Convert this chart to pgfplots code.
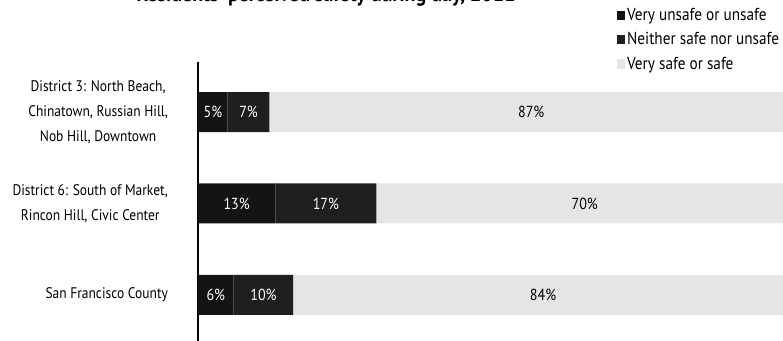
\documentclass[border=0pt]{standalone}
\usepackage{fontspec}
\setmainfont{PT Sans}[FakeStretch=0.88]
\usepackage{pgfplots}
\pgfplotsset{compat=1.18}

\definecolor{vunsafe}{gray}{0.08}
\definecolor{neither}{gray}{0.12}
\definecolor{vsafe}{gray}{0.9}

\pgfplotsset{
  frame/.style={
    at={(148.5pt,-258.75pt)}, anchor=south west,
    scale only axis,
    width=446.25pt, height=212.25pt,
    xmin=0, xmax=100,
    ymin=-0.55, ymax=2.55,
  }
}

\begin{document}
\begin{tikzpicture}
\begin{axis}[
    frame,
    xbar stacked,
    bar width=30pt,
    axis x line=none,
    axis y line=left,
    axis line style={-, line width=2pt},
    ytick={0,1,2},
    yticklabels={San Francisco County,
        {District 6: South of Market,\\Rincon Hill, Civic Center},
        {District 3: North Beach,\\Chinatown, Russian Hill,\\Nob Hill, Downtown}},
    yticklabel style={align=center, font=\fontsize{11.5}{18.5}\selectfont, xshift=-19pt},
    major tick length=0pt,
    title={Residents' perceived safety during day, 2011},
    title style={at={(axis description cs:0.215,1.186)}, anchor=base,
        font=\bfseries\fontsize{17}{20}\selectfont},
    legend style={at={(axis description cs:0.703,1.2)}, anchor=north west,
        draw=none, fill=none, font=\fontsize{13}{15}\selectfont,
        row sep=3.5pt, inner sep=0pt},
    legend cell align=left,
    legend image code/.code={\fill[#1,draw=none] (0pt,-3.5pt) rectangle (6pt,3.5pt);},
]
\addplot[fill=vunsafe, draw=none] coordinates {(5,2) (13,1) (6,0)};
\addplot[fill=neither, draw=none] coordinates {(7,2) (17,1) (10,0)};
\addplot[fill=vsafe, draw=none] coordinates {(87,2) (70,1) (84,0)};
\legend{Very unsafe or unsafe, Neither safe nor unsafe, Very safe or safe}
\end{axis}

% value labels, centred on each segment
\begin{axis}[
    frame,
    hide axis,
    nodes near coords,
    point meta=explicit symbolic,
    every node near coord/.style={anchor=center, font=\fontsize{12}{14}\selectfont},
]
\addplot[draw=none, mark=none, nodes near coords style={white}]
    coordinates {(2.5,2)[5\%] (8.5,2)[7\%] (6.5,1)[13\%] (21.5,1)[17\%] (3,0)[6\%] (11,0)[10\%]};
\addplot[draw=none, mark=none]
    coordinates {(56,2)[87\%] (65,1)[70\%] (58,0)[84\%]};
\end{axis}
\pgfresetboundingbox
\path[use as bounding box] (0pt,0pt) rectangle (587.25pt,-255.75pt);
\end{tikzpicture}
\end{document}
